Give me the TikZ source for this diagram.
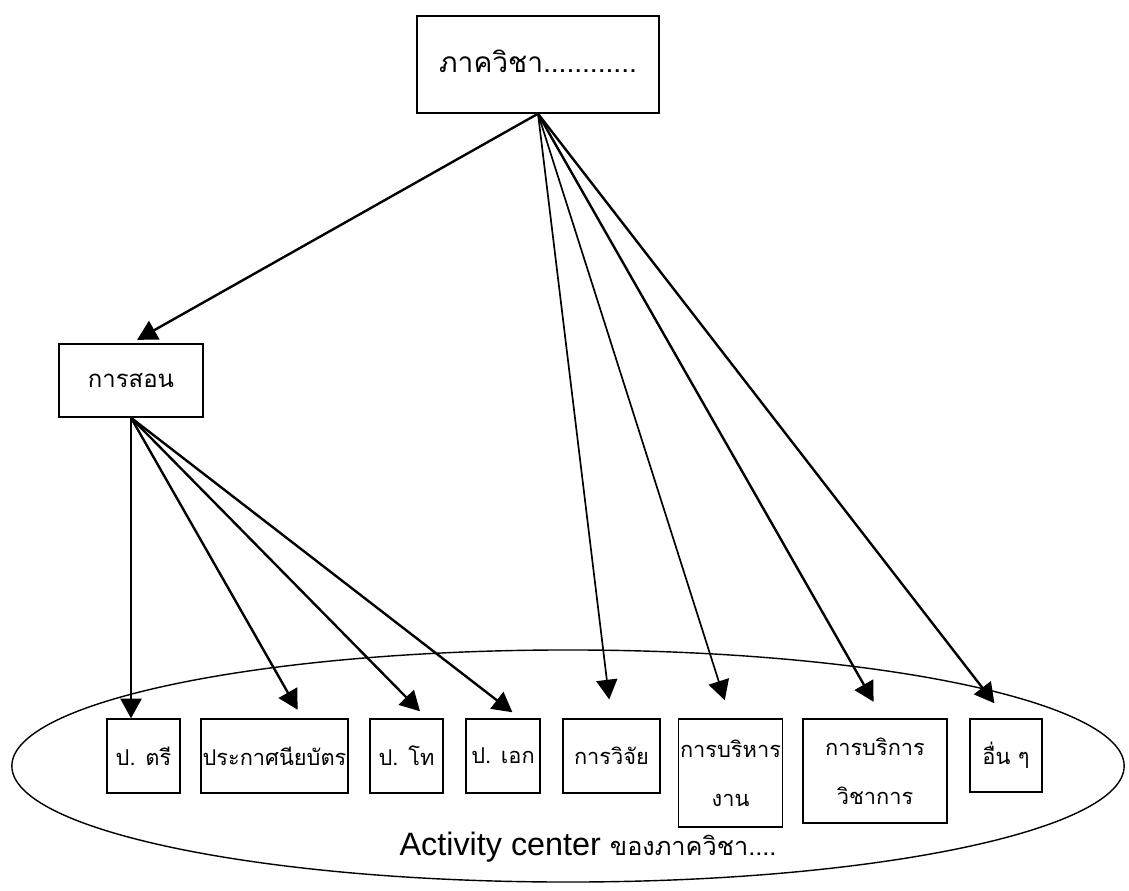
\documentclass[tikz,border=0pt]{standalone}
\usepackage{fontspec}
\setmainfont{Liberation Sans}
\newfontfamily\thaifont[Script=Thai]{Loma}
\usetikzlibrary{shapes.geometric, positioning, arrows.meta, calc}

\begin{document}
\begin{tikzpicture}[
    x=0.025cm, y=-0.025cm,
    unit/.style={rectangle, draw, line width=1pt, align=center, inner sep=1pt, font=\thaifont\fontsize{15.5}{35}\selectfont},
    arr/.style={draw, line width=1.7pt, -{Triangle[length=14pt, width=15pt]}},
    thinarr/.style={arr, line width=1.2pt}
]
    \useasboundingbox (0,0) rectangle (1129,891);

    % Department and teaching
    \node[unit, minimum width=6.05cm, minimum height=2.425cm, font=\thaifont\fontsize{20}{24}\selectfont] (dept) at (538,64.5) {\raisebox{5pt}{ภาควิชา............}};
    \node[unit, minimum width=3.6cm, minimum height=1.825cm, font=\thaifont\fontsize{17}{24}\selectfont] (teach) at (131,380.5) {การสอน};

    % Activity centre
    \draw[line width=1pt] (568,766) ellipse [x radius=13.9cm, y radius=2.9cm];
    \node[font=\fontsize{23}{28}\selectfont] (actlabel) at (588,847) {Activity center {\thaifont\fontsize{18}{20}\selectfont ของภาควิชา....}};

    % Units
    \node[unit, minimum width=1.825cm, minimum height=1.85cm] (bsc) at (143.5,756) {ป. ตรี};
    \node[unit, minimum width=3.625cm, minimum height=1.85cm] (cert) at (274.5,756) {ประกาศนียบัตร};
    \node[unit, minimum width=1.825cm, minimum height=1.85cm] (msc) at (406.5,756) {ป. โท};
    \node[unit, minimum width=1.85cm, minimum height=1.85cm] (phd) at (503,756) {ป. เอก};
    \node[unit, minimum width=2.425cm, minimum height=1.85cm] (research) at (611.5,756) {การวิจัย};
    \node[unit, minimum width=2.375cm, minimum height=2.7cm] (admin) at (730.5,773) {การบริหาร\\งาน};
    \node[unit, minimum width=3.6cm, minimum height=2.6cm] (service) at (875,771) {การบริการ\\วิชาการ};
    \node[unit, minimum width=1.8cm, minimum height=1.825cm] (other) at (1006,755.5) {อื่น ๆ};

    % Arrows
    \coordinate (hub) at (dept.south);
    \draw[arr, shorten >=5pt] (hub) -- (teach.north);
    \draw[thinarr, shorten >=13.5pt] (hub) -- (research.north);
    \draw[thinarr, shorten >=13.5pt] (hub) -- (admin.north);
    \draw[arr, shorten >=13.5pt] (hub) -- ([xshift=0.2cm]service.north);
    \draw[arr, shorten >=13.5pt] (hub) -- (other.north);

    \draw[arr] (teach.south) -- (teach.south |- bsc.north);
    \draw[arr, shorten >=7pt] (teach.south) -- ([xshift=0.7cm]cert.north);
    \draw[arr, shorten >=7pt] (teach.south) -- ([xshift=0.51cm]msc.north);
    \draw[arr, shorten >=7pt] (teach.south) -- ([xshift=0.43cm]phd.north);

\end{tikzpicture}
\end{document}
